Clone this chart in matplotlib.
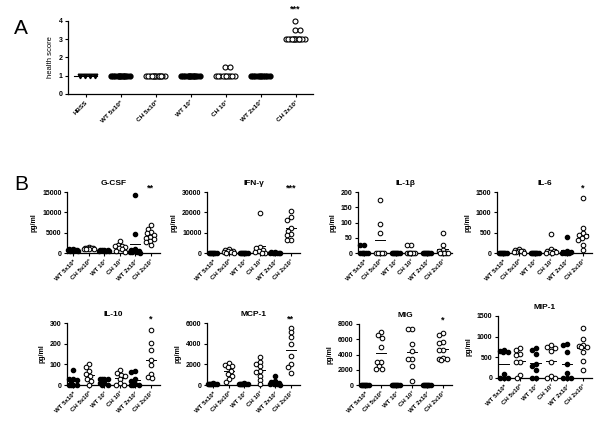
import numpy as np
import matplotlib
matplotlib.use("Agg")
import matplotlib.pyplot as plt
from matplotlib.transforms import blended_transform_factory

plt.rcParams['font.family'] = ['Liberation Sans', 'DejaVu Sans']

# ---------------- data ----------------
groups_A = ["HBSS", "WT 5x10⁶", "CH 5x10⁶", "WT 10⁷", "CH 10⁷", "WT 2x10⁷", "CH 2x10⁷"]
groups_B = ["WT 5x10⁶", "CH 5x10⁶", "WT 10⁷", "CH 10⁷", "WT 2x10⁷", "CH 2x10⁷"]

health_hbss = [1, 1, 1, 1]
health_wt5 = [1, 1, 1, 1, 1, 1, 1, 1, 1, 1, 1, 1]
health_ch5 = [1, 1, 1, 1, 1, 1, 1, 1, 1, 1, 1, 1, 1, 1]
health_wt7 = [1, 1, 1, 1, 1, 1, 1, 1, 1, 1, 1, 1]
health_ch7 = [1.5, 1.5, 1, 1, 1, 1, 1, 1, 1, 1, 1, 1]
health_wt2 = [1, 1, 1, 1, 1, 1, 1, 1, 1, 1]
health_ch2 = [4, 3.5, 3.5, 3, 3, 3, 3, 3, 3, 3, 3, 3, 3, 3, 3, 3]
health_sig = "***"

gcsf = [[1000, 900, 850, 800, 700, 650, 600, 500, 450],
        [1400, 1350, 1300, 1250, 1200, 1100, 1050, 1000, 900],
        [800, 750, 700, 650, 600, 550, 500, 450],
        [2900, 2000, 1800, 1700, 1500, 1300, 1100, 600, 300],
        [14200, 4700, 1000, 800, 600, 400, 300, 200, 200, 100],
        [6800, 6000, 5200, 4800, 4500, 4000, 3600, 3500, 3000, 2600, 2000]]
ifng = [[0, 0, 0, 0, 0, 0, 0, 0],
        [2000, 1500, 1000, 800, 500, 300, 200, 100],
        [0, 0, 0, 0, 0, 0, 0, 0],
        [19800, 3000, 2500, 1500, 800, 400, 200, 0],
        [500, 300, 200, 100, 0, 0, 0, 0],
        [20500, 17500, 16300, 12500, 11000, 9500, 9000, 6500, 6300]]
il1b = [[25, 25, 0, 0, 0, 0, 0, 0],
        [175, 95, 65, 0, 0, 0, 0, 0],
        [0, 0, 0, 0, 0, 0, 0, 0],
        [25, 25, 0, 0, 0, 0, 0, 0],
        [0, 0, 0, 0, 0, 0, 0, 0],
        [65, 25, 10, 5, 0, 0, 0, 0, 0]]
il6 = [[0, 0, 0, 0, 0, 0, 0, 0],
       [100, 70, 60, 50, 40, 30, 20, 10],
       [0, 0, 0, 0, 0, 0, 0, 0],
       [470, 110, 60, 40, 30, 20, 10, 0],
       [400, 40, 30, 20, 10, 0, 0, 0],
       [1350, 620, 490, 450, 420, 360, 330, 200, 70]]
il10 = [[72, 30, 30, 25, 20, 0, 0, 0, 0],
        [100, 85, 70, 55, 45, 30, 20, 0],
        [30, 30, 30, 30, 10, 10, 0, 0],
        [75, 60, 50, 45, 30, 10, 0, 0],
        [70, 65, 30, 20, 5, 0, 0, 0],
        [265, 205, 170, 120, 95, 55, 40, 35]]
mcp1 = [[150, 120, 100, 100, 80, 80, 60, 50],
        [2100, 1950, 1800, 1700, 1400, 1100, 900, 600, 300],
        [150, 120, 100, 100, 80, 80, 60, 50],
        [2700, 2200, 2000, 1800, 1400, 1300, 900, 500, 100],
        [900, 400, 300, 200, 100, 100, 50, 0],
        [5500, 5100, 4600, 4000, 2800, 2000, 1700, 1200]]
mig = [[0, 0, 0, 0, 0, 0, 0, 0],
       [6900, 6500, 6200, 5000, 3000, 3000, 2500, 2100, 2100],
       [0, 0, 0, 0, 0, 0, 0, 0],
       [7400, 7400, 5400, 4450, 3370, 3370, 2500, 475],
       [0, 0, 0, 0, 0, 0, 0, 0],
       [6800, 6600, 5600, 5500, 4600, 4600, 3500, 3400, 3400, 3300]]
mip1 = [[680, 660, 640, 620, 100, 0, 0, 0],
        [730, 670, 570, 550, 380, 380, 80, 0],
        [720, 680, 590, 330, 290, 200, 0, 0],
        [790, 760, 730, 660, 380, 40, 0, 0],
        [820, 790, 630, 350, 130, 0, 0, 0],
        [1200, 940, 800, 780, 760, 750, 620, 400, 200]]

titles = ["G-CSF", "IFN-γ", "IL-1β", "IL-6", "IL-10", "MCP-1", "MIG", "MIP-1"]
panels = [gcsf, ifng, il1b, il6, il10, mcp1, mig, mip1]
yticks = [[0, 5000, 10000, 15000], [0, 10000, 20000, 30000], [0, 50, 100, 150, 200],
          [0, 500, 1000, 1500], [0, 100, 200, 300], [0, 2000, 4000, 6000],
          [0, 2000, 4000, 6000, 8000], [0, 500, 1000, 1500]]
sigs = ["**", "***", "", "*", "*", "**", "*", ""]

# ---------------- layout (pixels) ----------------
W, H = 602, 422
fig = plt.figure(figsize=(W / 100, H / 100), dpi=100)


def add_axes(left, right, top, bottom):
    return fig.add_axes([left / W, 1 - bottom / H, (right - left) / W, (bottom - top) / H])


boxes = [(67, 160, 192, 253), (207, 300, 192, 253), (358, 452, 192, 253), (497, 592, 192, 253),
         (67, 160, 323, 385), (207, 300, 323, 385), (359, 452, 324, 385), (498, 592, 316, 378)]


def swarm(ax, xc, vals, d, maxoff, step):
    """Greedy swarm placement in pixel space; returns x data coordinates."""
    tr = ax.transData
    inv = tr.inverted()
    vals = np.asarray(vals, float)
    order = np.argsort(-vals, kind="stable")
    cand = np.arange(-maxoff, maxoff + 1e-9, step)
    cand = cand[np.argsort(np.abs(cand), kind="stable")]
    placed = []
    xs = np.zeros(len(vals))
    cx, _ = tr.transform((xc, 0))
    for i in order:
        _, py = tr.transform((xc, vals[i]))
        best, bestd = None, -1
        for c in cand:
            if placed:
                md = min(np.hypot(c + cx - qx, py - qy) for qx, qy in placed)
            else:
                md = 1e9
            if md >= d:
                best = c
                break
            if md > bestd + 1e-6:
                best, bestd = c, md
        placed.append((cx + best, py))
        xs[i] = inv.transform((cx + best, py))[0]
    return xs


def style(ax):
    for s in ["top", "right"]:
        ax.spines[s].set_visible(False)
    for s in ["left", "bottom"]:
        ax.spines[s].set_linewidth(0.9)
    ax.tick_params(axis="both", length=2.5, width=0.8, pad=1.5, labelsize=5)
    for lab in ax.get_yticklabels():
        lab.set_fontweight("bold")


# ---------------- panel A ----------------
axA = add_axes(68, 313, 21, 94)
axA.set_xlim(-0.5, 6.5)
axA.set_ylim(0, 4)
axA.set_yticks([0, 1, 2, 3, 4])
dataA = [health_hbss, health_wt5, health_ch5, health_wt7, health_ch7, health_wt2, health_ch2]
for i, vals in enumerate(dataA):
    axA.plot([i - 0.33, i + 0.33], [np.median(vals)] * 2, color="black", lw=0.8, zorder=2)
    xs = swarm(axA, i, vals, 4.5, 10, 1.2)
    if i == 0:
        axA.plot(xs, vals, linestyle="none", marker="v", ms=3.3, color="black", zorder=3, clip_on=False)
    elif groups_A[i].startswith("WT"):
        axA.plot(xs, vals, linestyle="none", marker="o", ms=3.5, color="black", zorder=3, clip_on=False)
    else:
        axA.plot(xs, vals, linestyle="none", marker="o", ms=3.6, mfc="white", mec="black",
                 mew=0.8, zorder=3, clip_on=False)
style(axA)
axA.set_xticks(range(7))
axA.set_xticklabels(groups_A, rotation=45, ha="right", rotation_mode="anchor",
                    fontsize=4.6, fontweight="bold")
axA.set_ylabel("health score", fontsize=5.5, labelpad=3)
trA = blended_transform_factory(axA.transData, axA.transAxes)
axA.text(6, 1.17, health_sig, transform=trA, ha="center", va="center", fontsize=6.5, fontweight="bold")
fig.text(14 / W, 1 - 29 / H, "A", fontsize=15, ha="left", va="center")
fig.text(14 / W, 1 - 184 / H, "B", fontsize=15, ha="left", va="center")

# ---------------- panel B ----------------
for k, (data, title, yt, sig, box) in enumerate(zip(panels, titles, yticks, sigs, boxes)):
    ax = add_axes(*box)
    ax.set_xlim(-0.4, 5.6)
    ax.set_ylim(yt[0], yt[-1])
    ax.set_yticks(yt)
    for i, vals in enumerate(data):
        ax.plot([i - 0.33, i + 0.33], [np.mean(vals)] * 2, color="black", lw=0.7, zorder=2)
        xs = swarm(ax, i, vals, 4.0, 5.0, 1.0)
        if groups_B[i].startswith("WT"):
            ax.plot(xs, vals, linestyle="none", marker="o", ms=3.0, color="black", zorder=3, clip_on=False)
        else:
            ax.plot(xs, vals, linestyle="none", marker="o", ms=3.3, mfc="white", mec="black",
                    mew=0.75, zorder=3, clip_on=False)
    style(ax)
    ax.set_xticks(range(6))
    ax.set_xticklabels(groups_B, rotation=45, ha="right", rotation_mode="anchor",
                       fontsize=4.4, fontweight="bold")
    ax.set_ylabel("pg/ml", fontsize=5, fontweight="bold", labelpad=3)
    ax.set_title(title, fontsize=6, fontweight="bold", pad=5)
    if sig:
        tr = blended_transform_factory(ax.transData, ax.transAxes)
        ax.text(5, 1.06, sig, transform=tr, ha="center", va="center", fontsize=6.5, fontweight="bold")

fig.savefig("out.png", dpi=100)
